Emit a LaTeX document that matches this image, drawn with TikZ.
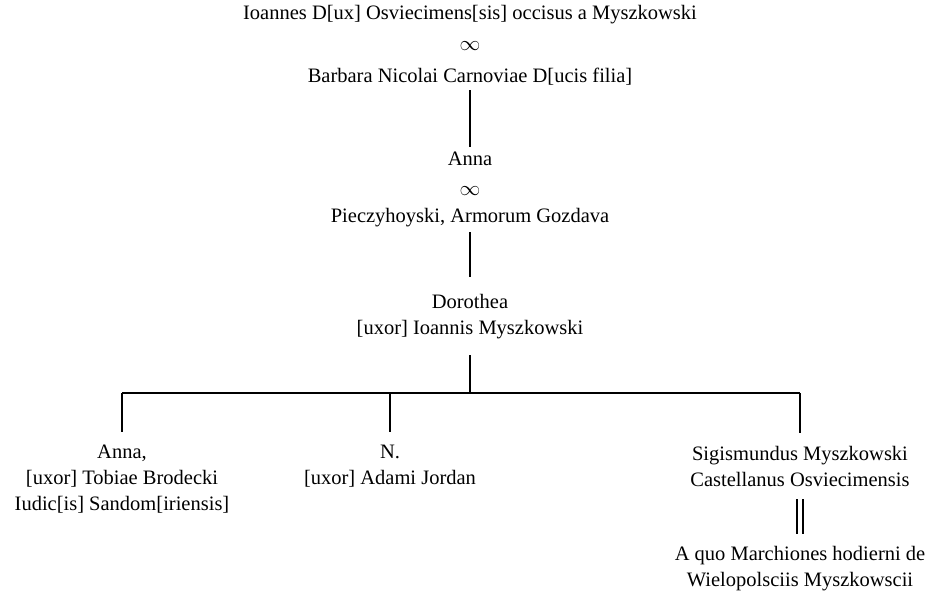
\documentclass[tikz,border=0pt]{standalone}
\usepackage{fontspec}
\setmainfont{Liberation Serif}
\usepackage{tikz}
\usetikzlibrary{positioning,calc}

\begin{document}
\begin{tikzpicture}[x=1pt, y=-1pt, ultra thick, gen/.style={inner ysep=12pt}]
   \useasboundingbox (0,0) rectangle (933,594);
   \begin{scope}[every node/.style={align=center, inner xsep=0pt, inner ysep=4pt,
       font=\fontsize{20.5}{26}\selectfont}]
    \node (ioannes) at (470,15) {Ioannes D[ux] Osviecimens[sis] occisus a Myszkowski};
    \node (inf1) at (470,46) {$\infty$};
    \node (barbara) at (470,77) {Barbara Nicolai Carnoviae D[ucis filia]};
    \node (anna) at (470,159) {Anna};
    \node (inf2) at (470,191) {$\infty$};
    \node (pieczy) at (470,218) {Pieczyhoyski, Armorum Gozdava};
    \node (dorothea) [gen] at (470,317) {Dorothea\\{}[uxor] Ioannis Myszkowski};
    \node (annab) [gen] at (122,479) {Anna,\\{}[uxor] Tobiae Brodecki\\ Iudic[is] Sandom[iriensis]};
    \node (nn) [gen] at (390,466) {N.\\{}[uxor] Adami Jordan};
    \node (sigis) [gen] at (800,466) {Sigismundus Myszkowski\\ Castellanus Osviecimensis};
    \node (aquo) [gen] at (800,569) {A quo Marchiones hodierni de\\ Wielopolsciis Myszkowscii};
   \end{scope}
   \coordinate (fork) at (470,393);
   % descent lines
   \begin{scope}[black]
    \draw (barbara) -- (anna);
    \draw [shorten >=5pt] (pieczy) -- (dorothea);
    \draw [shorten <=3pt] (dorothea) -- (fork);
    \draw (annab.north |- fork) -- (sigis.north |- fork);
    \draw (annab.north |- fork) -- (annab);
    \draw (nn.north |- fork) -- (nn);
    \draw (sigis.north |- fork) -- (sigis);
    \draw [line width=1.6pt, double, double distance=4.5pt] (sigis) -- (aquo);
   \end{scope}
\end{tikzpicture}
\end{document}
